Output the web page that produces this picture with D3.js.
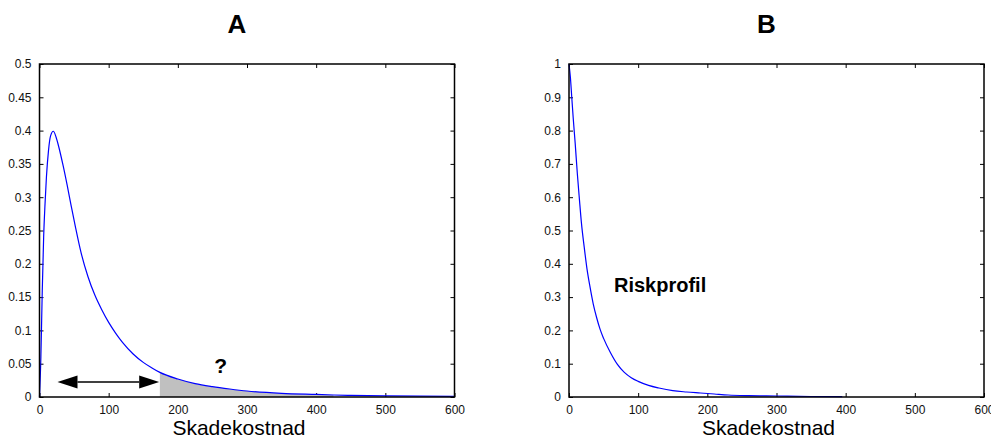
<!DOCTYPE html>
<html>
<head>
<meta charset="utf-8">
<script src="https://cdn.jsdelivr.net/npm/d3@7"></script>
<style>
  html, body { margin: 0; padding: 0; background: #fff; }
  svg { display: block; font-family: "Liberation Sans", Arial, sans-serif; }
</style>
</head>
<body>
<svg id="chart" width="991" height="439"></svg>
<script>
// Panel A: claim cost density
const costA = [0, 2, 4, 6, 8, 10, 13, 16, 20, 24, 28, 34, 40, 46, 52, 60, 70, 80, 90, 100, 110, 120, 135, 150, 162, 174, 200, 225, 250, 275, 300, 350, 400, 425, 450, 500, 550, 600];
const densityA = [0, 0.06, 0.16, 0.24, 0.29, 0.33, 0.37, 0.392, 0.399, 0.39, 0.375, 0.348, 0.318, 0.286, 0.255, 0.217, 0.181, 0.153, 0.131, 0.112, 0.096, 0.082, 0.065, 0.052, 0.044, 0.037, 0.027, 0.02, 0.0155, 0.012, 0.009, 0.0055, 0.0038, 0.003, 0.0025, 0.0018, 0.0012, 0.0008];
// shaded tail of panel A
const tailStart = 174;
const tailEnd = 425;
// double arrow in panel A (cost range, height)
const arrowFrom = 26;
const arrowTo = 173;
const arrowLevel = 0.0225;

// Panel B: risk profile (exceedance)
const costB = [0, 2, 4, 6, 9, 12, 15, 18, 22, 26, 30, 35, 40, 45, 50, 60, 70, 80, 90, 100, 115, 130, 150, 170, 190, 210, 230, 260, 300, 350, 395];
const exceedB = [1.0, 0.96, 0.9, 0.84, 0.76, 0.672, 0.595, 0.522, 0.45, 0.385, 0.335, 0.28, 0.238, 0.203, 0.176, 0.133, 0.098, 0.074, 0.058, 0.047, 0.035, 0.027, 0.019, 0.015, 0.012, 0.009, 0.006, 0.004, 0.003, 0.0015, 0.001];

const xTicks = [0, 100, 200, 300, 400, 500, 600];
const yTicksA = [0, 0.05, 0.1, 0.15, 0.2, 0.25, 0.3, 0.35, 0.4, 0.45, 0.5];
const yTicksB = [0, 0.1, 0.2, 0.3, 0.4, 0.5, 0.6, 0.7, 0.8, 0.9, 1];

const svg = d3.select("#chart");

const plotTop = 64, plotBottom = 397;

function panel(left, right, yMax, yTicks, title) {
  const x = d3.scaleLinear().domain([0, 600]).range([left, right]);
  const y = d3.scaleLinear().domain([0, yMax]).range([plotBottom, plotTop]);
  const g = svg.append("g");
  const fmt = d => String(+d.toFixed(2));

  // inward ticks on all four sides
  const axB = g.append("g").attr("transform", `translate(0,${plotBottom})`)
    .call(d3.axisBottom(x).tickValues(xTicks).tickSize(-4).tickPadding(8).tickFormat(d => d));
  const axT = g.append("g").attr("transform", `translate(0,${plotTop})`)
    .call(d3.axisTop(x).tickValues(xTicks).tickSize(-4).tickFormat(""));
  const axL = g.append("g").attr("transform", `translate(${left},0)`)
    .call(d3.axisLeft(y).tickValues(yTicks).tickSize(-4).tickPadding(8).tickFormat(fmt));
  const axR = g.append("g").attr("transform", `translate(${right},0)`)
    .call(d3.axisRight(y).tickValues(yTicks).tickSize(-4).tickFormat(""));
  [axB, axT, axL, axR].forEach(a => {
    a.select(".domain").remove();
    a.selectAll(".tick line").attr("stroke", "#000").attr("stroke-width", 1);
    a.selectAll("text").attr("font-size", 12).attr("fill", "#111")
      .attr("font-family", "Liberation Sans, Arial, sans-serif");
  });

  // title and axis label
  const cx = (left + right) / 2 - 10;
  g.append("text").attr("x", cx).attr("y", 33).attr("text-anchor", "middle")
    .attr("font-size", 26).attr("font-weight", "bold").text(title);
  g.append("text").attr("x", cx + 2).attr("y", 435).attr("text-anchor", "middle")
    .attr("font-size", 21).text("Skadekostnad");

  return { g, x, y, left, right };
}

// ---- Panel A ----
const A = panel(39.5, 454.5, 0.5, yTicksA, "A");
const ptsA = costA.map((c, i) => [c, densityA[i]]);
const tail = ptsA.filter(p => p[0] >= tailStart && p[0] <= tailEnd);
A.g.append("path")
  .datum(tail)
  .attr("fill", "#c0c0c0")
  .attr("d", d3.area().curve(d3.curveMonotoneX).x(d => A.x(d[0])).y0(A.y(0)).y1(d => A.y(d[1])));
A.g.append("path")
  .datum(ptsA)
  .attr("fill", "none").attr("stroke", "#0000ff").attr("stroke-width", 1.2)
  .attr("d", d3.line().curve(d3.curveMonotoneX).x(d => A.x(d[0])).y(d => A.y(d[1])));

// double-headed arrow
const ay = A.y(arrowLevel), ax0 = A.x(arrowFrom), ax1 = A.x(arrowTo);
const headL = 20, headH = 6.5;
A.g.append("line").attr("x1", ax0 + headL).attr("x2", ax1 - headL)
  .attr("y1", ay).attr("y2", ay).attr("stroke", "#000").attr("stroke-width", 1.5);
A.g.append("path").attr("fill", "#000")
  .attr("d", `M${ax0},${ay}L${ax0 + headL},${ay - headH}L${ax0 + headL},${ay + headH}Z`);
A.g.append("path").attr("fill", "#000")
  .attr("d", `M${ax1},${ay}L${ax1 - headL},${ay - headH}L${ax1 - headL},${ay + headH}Z`);
A.g.append("text").attr("x", A.x(262)).attr("y", A.y(0.036)).attr("text-anchor", "middle")
  .attr("font-size", 21).attr("font-weight", "bold").text("?");

// ---- Panel B ----
const B = panel(569, 984, 1, yTicksB, "B");
const ptsB = costB.map((c, i) => [c, exceedB[i]]);
B.g.append("path")
  .datum(ptsB)
  .attr("fill", "none").attr("stroke", "#0000ff").attr("stroke-width", 1.2)
  .attr("d", d3.line().curve(d3.curveMonotoneX).x(d => B.x(d[0])).y(d => B.y(d[1])));
B.g.append("text").attr("x", B.x(65)).attr("y", B.y(0.315))
  .attr("font-size", 20).attr("font-weight", "bold").text("Riskprofil");

// plot frames drawn last so they sit above the curves
[A, B].forEach(p => {
  p.g.append("rect").attr("x", p.left).attr("y", plotTop)
    .attr("width", p.right - p.left).attr("height", plotBottom - plotTop)
    .attr("fill", "none").attr("stroke", "#000").attr("stroke-width", 1.5);
});
</script>
</body>
</html>
